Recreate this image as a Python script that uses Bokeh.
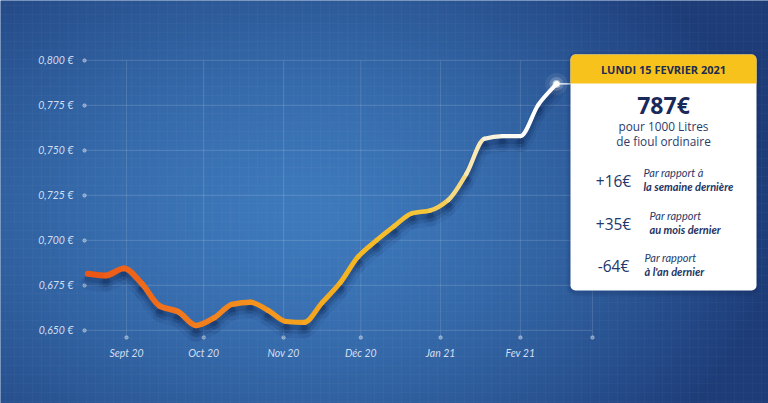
import numpy as np
import pandas as pd
from bokeh.plotting import figure
from bokeh.models import Range1d, LinearAxis, DatetimeAxis, FixedTicker, Label, BoxAnnotation
from bokeh.embed import file_html
from bokeh.resources import INLINE

# ---------------- data ----------------
week_dates = pd.date_range("2020-08-17", "2021-02-15", freq="7D")
prices = [0.6815, 0.6806, 0.6845, 0.6760, 0.6635, 0.6605, 0.6528, 0.6570, 0.6645,
          0.6657, 0.6612, 0.6550, 0.6545, 0.6655, 0.6765, 0.6910, 0.7000, 0.7080,
          0.7152, 0.7167, 0.7225, 0.7370, 0.7565, 0.7580, 0.7580, 0.7755, 0.7870]

y_ticks = [0.650, 0.675, 0.700, 0.725, 0.750, 0.775, 0.800]
y_labels = ["0,650 €", "0,675 €", "0,700 €", "0,725 €", "0,750 €", "0,775 €", "0,800 €"]

month_starts = ["2020-09-01", "2020-10-01", "2020-11-01", "2020-12-01", "2021-01-01", "2021-02-01"]
month_labels = ["Sept 20", "Oct 20", "Nov 20", "Déc 20", "Jan 21", "Fev 21"]
grid_end = "2021-03-01"

card_date = "LUNDI 15 FEVRIER 2021"
card_price = "787€"
card_sub = ["pour 1000 Litres", "de fioul ordinaire"]
card_deltas = ["+16€", "+35€", "-64€"]
card_ref1 = ["Par rapport à", "Par rapport", "Par rapport"]
card_ref2 = ["la  semaine dernière", "au mois dernier", "à l'an dernier"]

# ---------------- geometry ----------------
W, H = 768, 403
DAY = 86400000.0
ms = lambda s: pd.Timestamp(s).value / 1e6
sep1 = ms("2020-09-01")
x_start = sep1 - 48.94 * DAY
x_end = sep1 + 249.36 * DAY
y_start, y_end = 0.60944, 0.83333

def px_x(px):
    return x_start + px / W * (x_end - x_start)

def px_y(py):
    return y_end - py / H * (y_end - y_start)

dy_px = (y_end - y_start) / H

p = figure(width=W, height=H, output_backend="svg", toolbar_location=None,
           x_axis_type=None, y_axis_type=None, min_border=0,
           x_range=Range1d(x_start, x_end), y_range=Range1d(y_start, y_end))
p.outline_line_color = None
p.background_fill_color = "#2b5b9c"
p.border_fill_color = "#2b5b9c"

# background gradient
GH, GW = 202, 384
rows = np.arange(GH)
cols = np.arange(GW)
pyg = H - (rows[:, None] + 0.5) * H / GH
pxg = (cols[None, :] + 0.5) * W / GW
rx = np.where(pxg < 310, 560.0, 470.0)
d = np.sqrt(((pxg - 310) / rx) ** 2 + ((pyg - 215) / 340.0) ** 2)
t = np.clip(d, 0, 1) ** 1.5
c0 = np.array([62, 122, 188])
c1 = np.array([29, 60, 120])
img = np.empty((GH, GW), dtype=np.uint32)
view = img.view(dtype=np.uint8).reshape((GH, GW, 4))
for ch in range(3):
    view[:, :, ch] = (c0[ch] * (1 - t) + c1[ch] * t).astype(np.uint8)
view[:, :, 3] = 255
p.image_rgba(image=[img], x=x_start, y=y_start, dw=x_end - x_start, dh=y_end - y_start)

# blueprint texture
p.quad(left=[x_start], right=[x_end], bottom=[y_start], top=[y_end], fill_alpha=0,
       line_alpha=0, hatch_pattern="+", hatch_scale=9, hatch_color="white",
       hatch_alpha=0.022, hatch_weight=1)

# grid
gx_left = px_x(84)
gx_right = ms(grid_end)
gy_bottom = px_y(337)
p.segment(x0=[gx_left] * len(y_ticks), x1=[gx_right] * len(y_ticks), y0=y_ticks, y1=y_ticks,
          line_color="white", line_alpha=0.13, line_width=1)
vx = [ms(m) for m in month_starts] + [gx_right]
p.segment(x0=vx, x1=vx, y0=[gy_bottom] * len(vx), y1=[y_ticks[-1]] * len(vx),
          line_color="white", line_alpha=0.13, line_width=1)
p.scatter(x=[gx_left] * len(y_ticks), y=y_ticks, size=3.5, color="white", alpha=0.35)
p.scatter(x=vx, y=[gy_bottom] * len(vx), size=3.5, color="white", alpha=0.35)

# axes with fixed location
yaxis = LinearAxis(fixed_location=gx_left, ticker=FixedTicker(ticks=y_ticks),
                   major_label_overrides={v: l for v, l in zip(y_ticks, y_labels)})
xaxis = DatetimeAxis(fixed_location=gy_bottom, ticker=FixedTicker(ticks=[ms(m) for m in month_starts]),
                     major_label_overrides={ms(m): l for m, l in zip(month_starts, month_labels)})
for ax in (yaxis, xaxis):
    ax.axis_line_color = None
    ax.major_tick_line_color = None
    ax.minor_tick_line_color = None
    ax.major_label_text_font = "Lato"
    ax.major_label_text_font_style = "italic"
    ax.major_label_text_font_size = "10.5px"
    ax.major_label_text_color = "#d3dff1"
yaxis.major_label_standoff = 5
xaxis.major_label_standoff = 3
p.add_layout(yaxis, "left")
p.add_layout(xaxis, "below")

# smooth (monotone cubic) line with gradient
xs = np.array([d.value / 1e6 for d in week_dates])
ys = np.array(prices)
n = len(xs)
h = np.diff(xs)
delta = np.diff(ys) / h
m = np.zeros(n)
m[0], m[-1] = delta[0], delta[-1]
for i in range(1, n - 1):
    if delta[i - 1] * delta[i] > 0:
        w1, w2 = 2 * h[i] + h[i - 1], h[i] + 2 * h[i - 1]
        m[i] = (w1 + w2) / (w1 / delta[i - 1] + w2 / delta[i])

stops_k = [0, 6, 11, 15, 19, 21, 22, 24, 26]
stops_c = [(236, 84, 22), (242, 124, 30), (245, 156, 30), (246, 184, 34), (245, 198, 58),
           (247, 222, 150), (252, 240, 210), (255, 255, 255), (255, 255, 255)]

def col_at(k):
    r = np.interp(k, stops_k, [c[0] for c in stops_c])
    g = np.interp(k, stops_k, [c[1] for c in stops_c])
    b = np.interp(k, stops_k, [c[2] for c in stops_c])
    return "#%02x%02x%02x" % (int(r), int(g), int(b))

segs = {k: [] for k in ("x0", "y0", "x1", "y1", "cx0", "cy0", "cx1", "cy1")}
colors, widths = [], []
for i in range(n - 1):
    segs["x0"].append(xs[i]); segs["y0"].append(ys[i])
    segs["x1"].append(xs[i + 1]); segs["y1"].append(ys[i + 1])
    segs["cx0"].append(xs[i] + h[i] / 3); segs["cy0"].append(ys[i] + m[i] * h[i] / 3)
    segs["cx1"].append(xs[i + 1] - h[i] / 3); segs["cy1"].append(ys[i + 1] - m[i + 1] * h[i] / 3)
    colors.append(col_at(i + 0.5))
    widths.append(6.0 - 2.0 * i / (n - 2))

# shadows
for off, w, a in ((9, 14, 0.07), (7, 9, 0.14), (5, 6, 0.18)):
    p.bezier(x0=segs["x0"], y0=[v - off * dy_px for v in segs["y0"]],
             x1=segs["x1"], y1=[v - off * dy_px for v in segs["y1"]],
             cx0=segs["cx0"], cy0=[v - off * dy_px for v in segs["cy0"]],
             cx1=segs["cx1"], cy1=[v - off * dy_px for v in segs["cy1"]],
             line_color="#0a2250", line_alpha=a, line_width=w, line_cap="round")
p.bezier(x0=segs["x0"], y0=segs["y0"], x1=segs["x1"], y1=segs["y1"],
         cx0=segs["cx0"], cy0=segs["cy0"], cx1=segs["cx1"], cy1=segs["cy1"],
         line_color=colors, line_width=widths, line_cap="round")

# connector and glow at last point
card_l, card_r, card_t, card_b = 570, 756, 54, 290
p.segment(x0=[xs[-1]], y0=[ys[-1]], x1=[px_x(card_l)], y1=[ys[-1]], line_color="white", line_width=1.2)
for s, a in ((22, 0.08), (14, 0.18), (8, 0.5)):
    p.scatter(x=[xs[-1]], y=[ys[-1]], size=s, color="white", alpha=a, line_alpha=0)
p.scatter(x=[xs[-1]], y=[ys[-1]], size=5, color="white")

# card
for o, a in ((4, 0.08), (2, 0.12)):
    p.add_layout(BoxAnnotation(left=px_x(card_l - o), right=px_x(card_r + o),
                               top=px_y(card_t - o + 2), bottom=px_y(card_b + o + 2),
                               fill_color="#0a1f4a", fill_alpha=a, line_alpha=0,
                               border_radius=6 + o))
p.add_layout(BoxAnnotation(left=px_x(card_l), right=px_x(card_r), top=px_y(card_t), bottom=px_y(card_b),
                           fill_color="white", fill_alpha=1, line_alpha=0, border_radius=5))
p.add_layout(BoxAnnotation(left=px_x(card_l), right=px_x(card_r), top=px_y(card_t), bottom=px_y(83),
                           fill_color="#f8c21c", fill_alpha=1, line_alpha=0, border_radius=(5, 5, 0, 0)))
for sy in (157, 201, 244):
    p.segment(x0=[px_x(576)], x1=[px_x(752)], y0=[px_y(sy)], y1=[px_y(sy)], line_color="#d5d9df", line_width=1)

navy = "#1f3362"
cx = px_x((card_l + card_r) / 2)

def lab(x, y, text, size, style="normal", align="center", color=navy, font="Open Sans"):
    p.add_layout(Label(x=x, y=px_y(y), text=text, text_font=font, text_font_size=size,
                       text_font_style=style, text_align=align, text_baseline="middle",
                       text_color=color))

lab(cx, 69, card_date, "11px", "bold", color="#1c2b52")
lab(cx, 104, card_price, "23px", "bold", color="#18295a")
lab(cx, 125, card_sub[0], "11.8px", color="#2a3c6a")
lab(cx, 140, card_sub[1], "11.8px", color="#2a3c6a")
delta_y = [180, 223, 265]
ref_x = [643, 649, 644]
ref_y1 = [172, 215, 257]
ref_y2 = [186, 229, 271]
for i in range(3):
    lab(px_x(613), delta_y[i], card_deltas[i], "15.5px", color="#22376a")
    lab(px_x(ref_x[i]), ref_y1[i], card_ref1[i], "11px", "italic", align="left", color="#2a3c6a", font="Lato")
    lab(px_x(ref_x[i]), ref_y2[i], card_ref2[i], "11px", "bold italic", align="left", color="#1f3362", font="Lato")

open("out.html", "w").write(file_html(p, INLINE))
